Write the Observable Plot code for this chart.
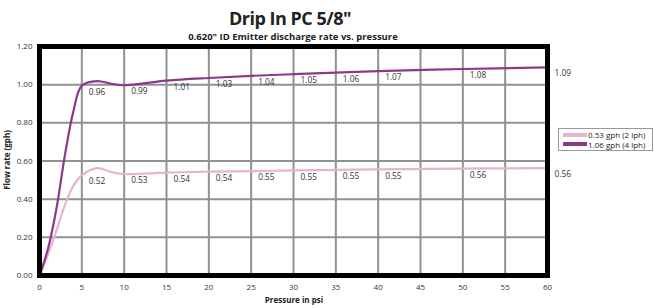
<!DOCTYPE html>
<html><head><meta charset="utf-8">
<script src="https://cdn.jsdelivr.net/npm/d3@7"></script>
<script src="https://cdn.jsdelivr.net/npm/@observablehq/plot@0.6"></script>
<style>
body{margin:0;background:#fff;font-family:"Open Sans",sans-serif;color:#222;}
#wrap{position:relative;width:654px;height:308px;overflow:hidden;}
#wrap svg{position:absolute;left:0;top:0;}
.t{position:absolute;white-space:nowrap;text-align:center;}
#title{left:0;width:580px;top:7px;font-size:18px;font-weight:700;line-height:22px;letter-spacing:-0.5px;}
#subtitle{left:0;width:586px;top:31px;font-size:9.5px;font-weight:700;line-height:12px;}
#xlabel{left:0;width:588px;top:294px;font-size:8px;font-weight:700;line-height:12px;}
#ylabel{left:7px;top:160px;font-size:8px;font-weight:700;line-height:10px;transform:translate(-50%,-50%) rotate(-90deg);}
#legend{position:absolute;left:558px;top:128px;width:89px;height:20px;border:1.5px solid #999;background:#fff;padding:1px 0 0 4px;}
.li{display:flex;align-items:center;height:9.5px;font-size:8px;line-height:9px;}
.sw{width:24px;height:4px;margin-right:1px;}
</style></head>
<body><div id="wrap"></div>
<script>
const pressure = [0, 1, 2, 3, 4, 5, 6.8, 8.5, 10, 15, 20, 25, 30, 35, 40, 50, 60];
const flow2lph = [0, 0.11, 0.235, 0.37, 0.47, 0.525, 0.563, 0.542, 0.532, 0.539, 0.544, 0.547, 0.551, 0.554, 0.556, 0.56, 0.563];
const flow4lph = [0, 0.14, 0.35, 0.63, 0.86, 0.995, 1.019, 1.005, 0.997, 1.021, 1.035, 1.046, 1.055, 1.063, 1.071, 1.082, 1.091];
const labelPressure = [5, 10, 15, 20, 25, 30, 35, 40, 50, 60];
const labels2lph = ["0.52","0.53","0.54","0.54","0.55","0.55","0.55","0.55","0.56","0.56"];
const labels4lph = ["0.96","0.99","1.01","1.03","1.04","1.05","1.06","1.07","1.08","1.09"];
const seriesNames = ["0.53 gph (2 lph)", "1.06 gph (4 lph)"];
const seriesColors = ["#e8b2d3", "#8b3a89"];
const xTicks = [0, 5, 10, 15, 20, 25, 30, 35, 40, 45, 50, 55, 60];
const yTicks = [0, 0.2, 0.4, 0.6, 0.8, 1.0, 1.2];

const rows = (vals) => pressure.map((p, i) => ({p, f: vals[i]}));
const labelRows = (vals, labs) => labelPressure.map((p, i) => ({p, f: vals[pressure.indexOf(p)], t: labs[i]}));

const chart = Plot.plot({
  width: 654, height: 308,
  marginTop: 46, marginBottom: 33, marginLeft: 39, marginRight: 107,
  x: {domain: [0, 60]},
  y: {domain: [0, 1.2]},
  style: {fontFamily: "Open Sans, sans-serif", fontSize: "8px", color: "#333", background: "transparent"},
  marks: [
    Plot.gridX(xTicks, {stroke: "#8f9291", strokeOpacity: 1, strokeWidth: 2}),
    Plot.gridY(yTicks, {stroke: "#8f9291", strokeOpacity: 1, strokeWidth: 2}),
    Plot.line(rows(flow2lph), {x: "p", y: "f", stroke: seriesColors[0], strokeWidth: 2.2, curve: "catmull-rom"}),
    Plot.line(rows(flow4lph), {x: "p", y: "f", stroke: seriesColors[1], strokeWidth: 2.2, curve: "catmull-rom"}),
    Plot.text(labelRows(flow2lph, labels2lph), {x: "p", y: "f", text: "t", textAnchor: "start", dx: 7, dy: 6.5, fill: "#333", fontSize: 8.3}),
    Plot.text(labelRows(flow4lph, labels4lph), {x: "p", y: "f", text: "t", textAnchor: "start", dx: 7, dy: 6.5, fill: "#333", fontSize: 8.3}),
    Plot.frame({stroke: "#000", strokeWidth: 5}),
    Plot.axisX(xTicks, {tickSize: 0, tickPadding: 9, label: null, tickFormat: d => String(d), fill: "#333"}),
    Plot.axisY(yTicks, {tickSize: 0, tickPadding: 7, label: null, tickFormat: d3.format(".2f"), fill: "#333"})
  ]
});
const wrap = document.getElementById("wrap");
wrap.appendChild(chart);
wrap.insertAdjacentHTML("beforeend", `
<div class="t" id="title">Drip In PC 5/8"</div>
<div class="t" id="subtitle">0.620" ID Emitter discharge rate vs. pressure</div>
<div class="t" id="xlabel">Pressure in psi</div>
<div class="t" id="ylabel">Flow rate (gph)</div>
<div id="legend">${seriesNames.map((n, i) => `<div class="li"><span class="sw" style="background:${seriesColors[i]}"></span>${n}</div>`).join("")}</div>
`);
</script>
</body></html>
